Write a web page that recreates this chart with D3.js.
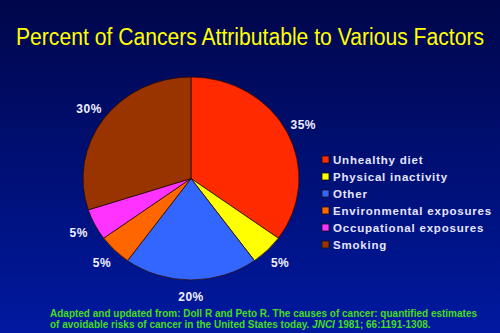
<!DOCTYPE html>
<html>
<head>
<meta charset="utf-8">
<script src="https://cdn.jsdelivr.net/npm/d3@7"></script>
<style>
  body { margin: 0; background: #000; }
  svg { display: block; font-family: "Liberation Sans", Arial, sans-serif; }
</style>
</head>
<body>
<svg id="chart" width="500" height="333"></svg>
<script>
/** Chart data */
var factors = ['Unhealthy diet', 'Physical inactivity', 'Other',
               'Environmental exposures', 'Occupational exposures', 'Smoking'];
var percents = [35, 5, 20, 5, 5, 30];
var sliceColors = ['#ff2a00', '#ffff00', '#3366ff', '#ff6600', '#ff33ff', '#993300'];

var title = 'Percent of Cancers Attributable to Various Factors';
var sourceLine1 = 'Adapted and updated from: Doll R and Peto R.  The causes of cancer: quantified estimates';
var sourceLine2a = 'of avoidable risks of cancer in the United States today. ';
var sourceLine2b = 'JNCI';
var sourceLine2c = ' 1981; 66:1191-1308.';

/** Layout */
var width = 500, height = 333;
var cx = 191, cy = 178.5,
    radius = 108,
    yScale = 0.94,
    labelRadius = 126;

var svg = d3.select('#chart');

// background gradient
var defs = svg.append('defs');
var grad = defs.append('linearGradient')
    .attr('id', 'bg')
    .attr('x1', 0).attr('y1', 0).attr('x2', 0).attr('y2', 1);
grad.append('stop').attr('offset', '0%').attr('stop-color', '#00064a');
grad.append('stop').attr('offset', '100%').attr('stop-color', '#0019a0');

svg.append('rect')
    .attr('width', width)
    .attr('height', height)
    .attr('fill', 'url(#bg)');

// title (a bit condensed, like the slide font)
svg.append('text')
    .attr('transform', 'translate(250,45) scale(1,1.1)')
    .attr('text-anchor', 'middle')
    .attr('font-size', 21)
    .attr('textLength', 468)
    .attr('lengthAdjust', 'spacingAndGlyphs')
    .attr('fill', '#ffff00')
    .text(title);

// pie
var color = d3.scaleOrdinal().domain(factors).range(sliceColors);

var pie = d3.pie()
    .sort(null)
    .value(function (d) { return d.value; });

var pieData = pie(factors.map(function (f, i) {
    return { key: f, value: percents[i] };
}));

var arc = d3.arc().innerRadius(0).outerRadius(radius);

var g = svg.append('g')
    .attr('transform', 'translate(' + cx + ',' + cy + ') scale(1,' + yScale + ')');

g.selectAll('path')
    .data(pieData)
    .enter()
    .append('path')
    .attr('d', arc)
    .attr('fill', function (d) { return color(d.data.key); })
    .attr('stroke', '#2a0a00')
    .attr('stroke-width', 0.8);

// percent labels, placed on a bigger circle around the pie
svg.selectAll('.pct')
    .data(pieData)
    .enter()
    .append('text')
    .attr('class', 'pct')
    .attr('x', function (d) {
        var a = (d.startAngle + d.endAngle) / 2;
        return cx + labelRadius * Math.sin(a);
    })
    .attr('y', function (d) {
        var a = (d.startAngle + d.endAngle) / 2;
        return cy - labelRadius * Math.cos(a) * yScale;
    })
    .attr('dy', '0.36em')
    .attr('text-anchor', 'middle')
    .attr('font-size', 12)
    .attr('font-weight', 'bold')
    .attr('letter-spacing', 0.5)
    .attr('fill', '#f0f0ff')
    .text(function (d) { return d.data.value + '%'; });

// legend
var legendY = d3.scalePoint()
    .domain(factors)
    .range([159.5, 244.5]);

var legend = svg.append('g').attr('class', 'legend');

var item = legend.selectAll('g')
    .data(factors)
    .enter()
    .append('g')
    .attr('transform', function (d) { return 'translate(322,' + legendY(d) + ')'; });

item.append('rect')
    .attr('x', 0)
    .attr('y', -3.5)
    .attr('width', 7)
    .attr('height', 7)
    .attr('fill', function (d) { return color(d); })
    .attr('stroke', '#111')
    .attr('stroke-width', 0.8);

item.append('text')
    .attr('x', 11)
    .attr('dy', '0.36em')
    .attr('font-size', 11.5)
    .attr('font-weight', 'bold')
    .attr('letter-spacing', 0.8)
    .attr('fill', '#e6e6ff')
    .text(function (d) { return d; });

// source note
var note = svg.append('g')
    .attr('font-size', 10)
    .attr('font-weight', 'bold')
    .attr('fill', '#44dd22');

note.append('text')
    .attr('x', 50)
    .attr('y', 317)
    .attr('textLength', 427)
    .attr('lengthAdjust', 'spacingAndGlyphs')
    .text(sourceLine1);

var line2 = note.append('text')
    .attr('x', 50)
    .attr('y', 328);
line2.append('tspan').text(sourceLine2a);
line2.append('tspan').attr('font-style', 'italic').text(sourceLine2b);
line2.append('tspan').text(sourceLine2c);
</script>
</body>
</html>
